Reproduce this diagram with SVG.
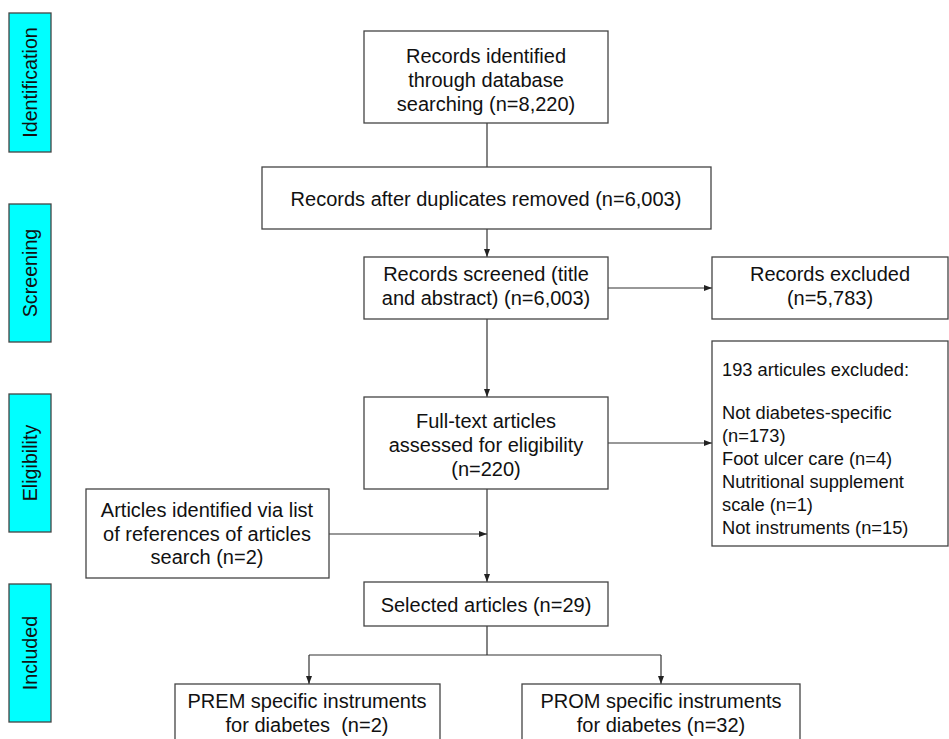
<svg xmlns="http://www.w3.org/2000/svg" width="949" height="739" viewBox="0 0 949 739">
<defs>
<marker id="ah" markerWidth="8" markerHeight="6" refX="8" refY="3" orient="auto" markerUnits="userSpaceOnUse">
<path d="M0,0 L8,3 L0,6 Z" fill="#222"/>
</marker>
<style>
.box{fill:#fff;stroke:#444;stroke-width:1.3}
.side{fill:#00ffff;stroke:#444;stroke-width:1.3}
.t{font-family:"Liberation Sans",Arial,sans-serif;font-size:20px;fill:#111;text-anchor:middle}
.l{font-family:"Liberation Sans",Arial,sans-serif;font-size:18.3px;fill:#111}
.st{font-family:"Liberation Sans",Arial,sans-serif;font-size:19.7px;fill:#111;text-anchor:middle}
.c{fill:none;stroke:#333;stroke-width:1.2}
</style>
</defs>
<rect width="949" height="739" fill="#fff"/>
<g id="side-identification"><rect class="side" x="9" y="13" width="42" height="139"/><text class="st" transform="translate(37,82.5) rotate(-90)">Identification</text></g>
<g id="side-screening"><rect class="side" x="9" y="204" width="42" height="138"/><text class="st" transform="translate(37,273) rotate(-90)">Screening</text></g>
<g id="side-eligibility"><rect class="side" x="9" y="394" width="42" height="138"/><text class="st" transform="translate(37,463) rotate(-90)">Eligibility</text></g>
<g id="side-included"><rect class="side" x="9" y="584" width="42" height="138"/><text class="st" transform="translate(37,653) rotate(-90)">Included</text></g>

<g id="connectors">
<path class="c" d="M487,123 V167"/>
<path class="c" d="M487,229 V257" marker-end="url(#ah)"/>
<path class="c" d="M487,319 V397" marker-end="url(#ah)"/>
<path class="c" d="M608,288 H712" marker-end="url(#ah)"/>
<path class="c" d="M608,443 H712" marker-end="url(#ah)"/>
<path class="c" d="M487,489 V582" marker-end="url(#ah)"/>
<path class="c" d="M329,534 H487" marker-end="url(#ah)"/>
<path class="c" d="M487,626 V655 M309,655 H661"/>
<path class="c" d="M309,655 V684" marker-end="url(#ah)"/>
<path class="c" d="M661,655 V684" marker-end="url(#ah)"/>
</g>

<g id="n-identified"><rect class="box" x="364" y="31" width="244" height="92"/>
<text class="t" x="486" y="63">Records identified</text>
<text class="t" x="486" y="87">through database</text>
<text class="t" x="486" y="111">searching (n=8,220)</text></g>

<g id="n-duplicates"><rect class="box" x="262" y="167" width="449" height="62"/>
<text class="t" x="486" y="206">Records after duplicates removed (n=6,003)</text></g>

<g id="n-screened"><rect class="box" x="364" y="257" width="244" height="62"/>
<text class="t" x="486" y="281">Records screened (title</text>
<text class="t" x="486" y="305">and abstract) (n=6,003)</text></g>

<g id="n-excluded"><rect class="box" x="712" y="257" width="236" height="62"/>
<text class="t" x="830" y="281">Records excluded</text>
<text class="t" x="830" y="305">(n=5,783)</text></g>

<g id="n-fulltext"><rect class="box" x="364" y="397" width="244" height="92"/>
<text class="t" x="486" y="428">Full-text articles</text>
<text class="t" x="486" y="452">assessed for eligibility</text>
<text class="t" x="486" y="476">(n=220)</text></g>

<g id="n-193"><rect class="box" x="712" y="341" width="236" height="205"/>
<text class="l" x="722" y="376">193 articules excluded:</text>
<text class="l" x="722" y="419">Not diabetes-specific</text>
<text class="l" x="722" y="442">(n=173)</text>
<text class="l" x="722" y="465">Foot ulcer care (n=4)</text>
<text class="l" x="722" y="488">Nutritional supplement</text>
<text class="l" x="722" y="511">scale (n=1)</text>
<text class="l" x="722" y="534">Not instruments (n=15)</text></g>

<g id="n-references"><rect class="box" x="86" y="489" width="243" height="89"/>
<text class="t" x="207" y="517">Articles identified via list</text>
<text class="t" x="207" y="541">of references of articles</text>
<text class="t" x="207" y="564">search (n=2)</text></g>

<g id="n-selected"><rect class="box" x="364" y="582" width="244" height="44"/>
<text class="t" x="486" y="612">Selected articles (n=29)</text></g>

<g id="n-prem"><rect class="box" x="175" y="684" width="265" height="60"/>
<text class="t" x="307" y="708">PREM specific instruments</text>
<text class="t" x="307" y="732" xml:space="preserve" style="white-space:pre">for diabetes  (n=2)</text></g>

<g id="n-prom"><rect class="box" x="522" y="684" width="278" height="60"/>
<text class="t" x="661" y="708">PROM specific instruments</text>
<text class="t" x="661" y="732">for diabetes (n=32)</text></g>
</svg>
